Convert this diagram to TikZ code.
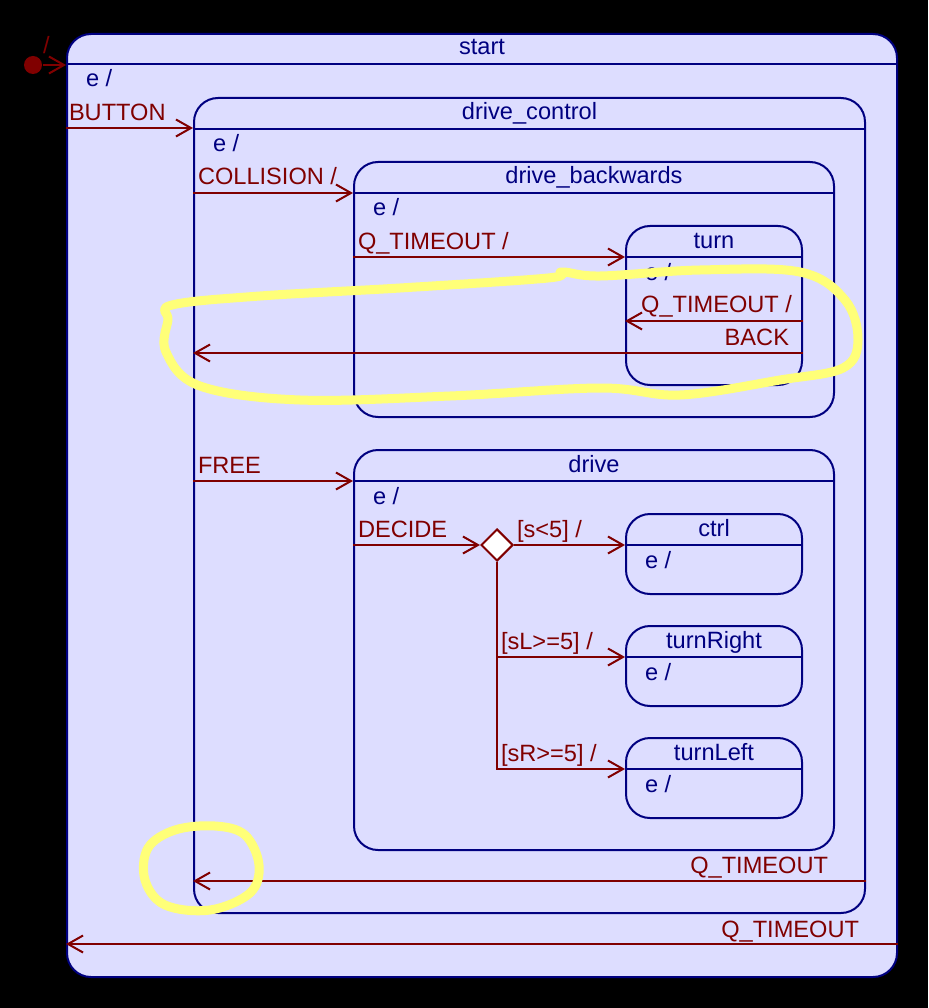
\documentclass[tikz,border=0pt]{standalone}
\usepackage{fontspec}
\setmainfont{Liberation Sans}
\usetikzlibrary{arrows.meta,positioning,shapes.geometric}
\definecolor{navy}{HTML}{000080}
\definecolor{maroon}{HTML}{800000}
\definecolor{lav}{HTML}{DDDDFF}
\definecolor{marker}{HTML}{FFFF78}
\tikzset{
  >={Straight Barb[length=15pt,width=17pt]},
  every picture/.style={line width=2pt,font=\fontsize{23.6}{26}\selectfont},
  state/.style={draw=navy,fill=lav,rounded corners=24pt,anchor=north west,inner sep=0pt},
  hdr/.style={draw=navy},
  ttl/.style={text=navy,anchor=base,inner sep=0pt},
  act/.style={text=navy,anchor=base west,inner sep=0pt},
  ev/.style={text=maroon,anchor=base west,inner sep=0pt},
  evr/.style={ev,anchor=base east},
  tr/.style={->,draw=maroon},
  hl/.style={draw=marker,line width=9pt,line cap=round,line join=round},
}
\begin{document}
\begin{tikzpicture}[x=1pt,y=-1pt]
  \fill[black] (0,0) rectangle (928,1008);
  \node[state,minimum width=830,minimum height=943] (start) at (66,33) {};
  \draw[hdr] (start.west |- 0,64) -- (start.east |- 0,64);
  \node[ttl] (startT) at (start.north |- 0,55) {start};
  \node[act] (startA) at (85,87) {e /};
  \node[state,minimum width=671,minimum height=815] (dctrl) at (193,97) {};
  \draw[hdr] (dctrl.west |- 0,129) -- (dctrl.east |- 0,129);
  \node[ttl] (dctrlT) at (dctrl.north |- 0,120) {drive\_control};
  \node[act] (dctrlA) at (212,152) {e /};
  \node[state,minimum width=480,minimum height=255] (dback) at (353,161) {};
  \draw[hdr] (dback.west |- 0,193) -- (dback.east |- 0,193);
  \node[ttl] (dbackT) at (dback.north |- 0,184) {drive\_backwards};
  \node[act] (dbackA) at (372,216) {e /};
  \node[state,minimum width=176,minimum height=159] (turn) at (625,225) {};
  \draw[hdr] (turn.west |- 0,257) -- (turn.east |- 0,257);
  \node[ttl] (turnT) at (turn.north |- 0,248) {turn};
  \node[act] (turnA) at (644,280) {e /};
  \node[state,minimum width=480,minimum height=400] (drive) at (353,449) {};
  \draw[hdr] (drive.west |- 0,481) -- (drive.east |- 0,481);
  \node[ttl] (driveT) at (drive.north |- 0,472) {drive};
  \node[act] (driveA) at (372,504) {e /};
  \node[state,minimum width=176,minimum height=80] (ctrl) at (625,513) {};
  \draw[hdr] (ctrl.west |- 0,545) -- (ctrl.east |- 0,545);
  \node[ttl] (ctrlT) at (ctrl.north |- 0,536) {ctrl};
  \node[act] (ctrlA) at (644,568) {e /};
  \node[state,minimum width=176,minimum height=80] (tright) at (625,625) {};
  \draw[hdr] (tright.west |- 0,657) -- (tright.east |- 0,657);
  \node[ttl] (trightT) at (tright.north |- 0,648) {turnRight};
  \node[act] (trightA) at (644,680) {e /};
  \node[state,minimum width=176,minimum height=80] (tleft) at (625,737) {};
  \draw[hdr] (tleft.west |- 0,769) -- (tleft.east |- 0,769);
  \node[ttl] (tleftT) at (tleft.north |- 0,760) {turnLeft};
  \node[act] (tleftA) at (644,792) {e /};
  \node[circle,fill=maroon,inner sep=0pt,minimum size=18] (init) at (33,65) {};
  \node[ev] (initL) at (42,54) {/};
  \draw[tr] (init) -- (start.west |- init);
  \node[ev] (buttonL) at (68,121) {BUTTON};
  \draw[tr] (start.west |- 0,128) -- (dctrl.west |- 0,128);
  \node[ev] (collL) at (197,185) {COLLISION /};
  \draw[tr] (dctrl.west |- 0,193) -- (dback.west |- 0,193);
  \node[ev] (qtoL) at (357,249) {Q\_TIMEOUT /};
  \draw[tr] (dback.west |- 0,257) -- (turn.west |- 0,257);
  \node[evr] (qtiL) at (793,312) {Q\_TIMEOUT /};
  \draw[tr] (turn.east |- 0,321) -- (turn.west |- 0,321);
  \node[evr] (backL) at (790,345) {BACK};
  \draw[tr] (turn.east |- 0,353) -- (dctrl.west |- 0,353);
  \node[ev] (freeL) at (197,473) {FREE};
  \draw[tr] (dctrl.west |- 0,481) -- (drive.west |- 0,481);
  \node[diamond,draw=maroon,fill=white,aspect=1,inner sep=0pt,minimum size=32] (dec) at (497,545) {};
  \node[ev] (decL) at (357,537) {DECIDE};
  \draw[tr] (drive.west |- dec) -- (dec.west);
  \node[ev] (g1L) at (516,537) {[s<5] /};
  \draw[tr] (dec.east) -- (ctrl.west |- dec);
  \node[ev] (g2L) at (500,649) {[sL>=5] /};
  \draw[tr] (dec.south) |- (tright.west |- 0,657);
  \node[ev] (g3L) at (500,761) {[sR>=5] /};
  \draw[tr] (dec.south) |- (tleft.west |- 0,769);
  \node[evr] (qt1L) at (829,873) {Q\_TIMEOUT};
  \draw[tr] (dctrl.east |- 0,881) -- (dctrl.west |- 0,881);
  \node[evr] (qt2L) at (860,937) {Q\_TIMEOUT};
  \draw[tr] (start.east |- 0,944) -- (start.west |- 0,944);
  \draw[hl] plot[smooth cycle,tension=0.6] coordinates {(172,305) (260,296) (400,288) (548,278) (562,272) (600,276) (700,270) (800,272) (845,300) (858,340) (843,368) (780,380) (680,395) (600,388) (450,396) (300,400) (200,386) (166,352) (168,320)};
  \draw[hl] plot[smooth cycle,tension=0.6] coordinates {(215,826) (245,835) (259,865) (250,893) (210,910) (165,905) (145,880) (148,848) (175,830)};
\end{tikzpicture}
\end{document}
